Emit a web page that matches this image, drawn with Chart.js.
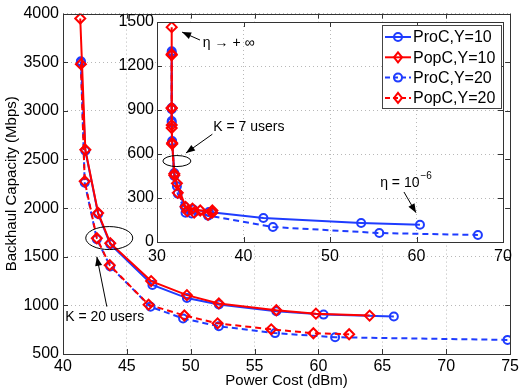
<!DOCTYPE html>
<html><head><meta charset="utf-8">
<script src="https://cdn.jsdelivr.net/npm/chart.js@4"></script>
<style>
html,body{margin:0;padding:0;background:#fff;}
#wrap{position:relative;width:522px;height:392px;}
canvas{position:absolute;left:0;top:0;}
</style></head><body>
<div id="wrap">
<canvas id="main" width="522" height="392"></canvas>
<canvas id="inset" width="522" height="392"></canvas>
</div>
<script>
// ---------- DATA ----------
const seriesLabels = ['ProC,Y=10', 'PopC,Y=10', 'ProC,Y=20', 'PopC,Y=20'];

// Main plot (K = 20 users)
const mainProC10X = [41.4, 41.75, 42.75, 43.7, 47.0, 49.7, 52.2, 56.7, 60.4, 65.9];
const mainProC10Y = [3510, 2590, 1940, 1630, 1210, 1075, 1010, 940, 905, 885];
const mainPopC10X = [41.35, 41.75, 42.75, 43.7, 46.9, 49.7, 52.2, 56.7, 59.8, 64.0];
const mainPopC10Y = [3950, 2600, 1950, 1640, 1250, 1105, 1020, 950, 915, 895];
const mainProC20X = [41.4, 41.7, 42.65, 43.7, 46.85, 49.4, 52.2, 56.6, 61.3, 74.8];
const mainProC20Y = [3500, 2260, 1680, 1400, 985, 865, 785, 715, 672, 645];
const mainPopC20X = [41.4, 41.7, 42.65, 43.66, 46.7, 49.5, 52.1, 56.3, 59.6, 62.4];
const mainPopC20Y = [3480, 2276, 1690, 1413, 1007, 896, 815, 754, 713, 703];

// Inset plot (K = 7 users)
const insetProC10X = [31.7, 31.7, 31.7, 31.75, 32.0, 32.3, 33.2, 34.2, 36.0, 42.3, 53.6, 60.4];
const insetProC10Y = [1300, 915, 825, 688, 470, 380, 240, 222, 205, 164, 130, 118];
const insetPopC10X = [31.7, 31.7, 31.7, 31.7, 31.75, 32.0, 32.3, 33.3, 34.1, 35.0, 36.4];
const insetPopC10Y = [1465, 1280, 915, 797, 675, 465, 400, 240, 228, 215, 215];
const insetProC20X = [31.7, 31.7, 31.7, 31.75, 32.0, 32.4, 33.3, 34.0, 35.9, 43.4, 55.7, 67.1];
const insetProC20Y = [1290, 905, 815, 680, 450, 330, 200, 195, 180, 102, 61, 48];
const insetPopC20X = [31.7, 31.7, 31.7, 31.75, 32.0, 32.4, 33.5, 34.3, 35.9, 36.4];
const insetPopC20Y = [1275, 910, 777, 668, 455, 335, 210, 200, 185, 200];

// Tick values
const mainXTicks = [40, 45, 50, 55, 60, 65, 70, 75];
const mainYTicks = [500, 1000, 1500, 2000, 2500, 3000, 3500, 4000];
const insetXTicks = [30, 40, 50, 60, 70];
const insetYTicks = [0, 300, 600, 900, 1200, 1500];

// ---------- STYLE ----------
const F = '"Liberation Sans", Arial, Helvetica, sans-serif';
const BLUE = '#1f3cff';
const RED = '#ff0000';
const styles = [
  {color: BLUE, dash: [], point: 'circle'},
  {color: RED, dash: [], point: 'diamond'},
  {color: BLUE, dash: [6, 4], point: 'circle'},
  {color: RED, dash: [6, 4], point: 'diamond'}
];

function pts(xs, ys) { return xs.map((x, i) => ({x: x, y: ys[i]})); }

function ds(i, xs, ys) {
  const s = styles[i];
  return {
    label: seriesLabels[i],
    data: pts(xs, ys),
    borderColor: s.color,
    backgroundColor: s.color,
    borderWidth: 2,
    borderDash: s.dash,
    showLine: true,
    fill: false,
    tension: 0,
    pointStyle: s.point === 'circle' ? 'circle' : 'rectRot',
    pointRadius: s.point === 'circle' ? 4 : 5,
    pointBorderWidth: 2,
    pointBorderColor: s.color,
    pointBackgroundColor: 'rgba(0,0,0,0)'
  };
}

function drawMarker(ctx, type, x, y, color) {
  ctx.save();
  ctx.strokeStyle = color; ctx.lineWidth = 2; ctx.setLineDash([]);
  ctx.beginPath();
  if (type === 'circle') { ctx.arc(x, y, 4, 0, Math.PI * 2); }
  else { ctx.moveTo(x, y - 5); ctx.lineTo(x + 4, y); ctx.lineTo(x, y + 5); ctx.lineTo(x - 4, y); ctx.closePath(); }
  ctx.stroke();
  ctx.restore();
}

function arrow(ctx, x1, y1, x2, y2) {
  ctx.save();
  ctx.strokeStyle = '#000'; ctx.fillStyle = '#000'; ctx.lineWidth = 1; ctx.setLineDash([]);
  ctx.beginPath(); ctx.moveTo(x1, y1); ctx.lineTo(x2, y2); ctx.stroke();
  const a = Math.atan2(y2 - y1, x2 - x1), L = 9, W = 3.5;
  ctx.beginPath();
  ctx.moveTo(x2, y2);
  ctx.lineTo(x2 - L * Math.cos(a) + W * Math.sin(a), y2 - L * Math.sin(a) - W * Math.cos(a));
  ctx.lineTo(x2 - L * Math.cos(a) - W * Math.sin(a), y2 - L * Math.sin(a) + W * Math.cos(a));
  ctx.closePath(); ctx.fill();
  ctx.restore();
}

function ellipse(ctx, cx, cy, rx, ry) {
  ctx.save();
  ctx.strokeStyle = '#000'; ctx.lineWidth = 1; ctx.setLineDash([]);
  ctx.beginPath(); ctx.ellipse(cx, cy, rx, ry, 0, 0, Math.PI * 2); ctx.stroke();
  ctx.restore();
}

// Frame + inward tick marks (MATLAB style)
const framePlugin = {
  id: 'frame',
  beforeDraw(chart, args, opts) {
    if (opts && opts.white) {
      const a = chart.chartArea, ctx = chart.ctx;
      ctx.save(); ctx.fillStyle = '#fff';
      ctx.fillRect(a.left, a.top, a.right - a.left, a.bottom - a.top);
      ctx.restore();
    }
  },
  afterDraw(chart) {
    const a = chart.chartArea, ctx = chart.ctx;
    const xs = chart.scales.x, ys = chart.scales.y;
    ctx.save();
    ctx.strokeStyle = '#333'; ctx.lineWidth = 1; ctx.setLineDash([]);
    const T = 5;
    ctx.beginPath();
    xs.ticks.forEach(t => {
      const p = Math.round(xs.getPixelForValue(t.value)) + 0.5;
      ctx.moveTo(p, a.bottom); ctx.lineTo(p, a.bottom - T);
      ctx.moveTo(p, a.top); ctx.lineTo(p, a.top + T);
    });
    ys.ticks.forEach(t => {
      const p = Math.round(ys.getPixelForValue(t.value)) + 0.5;
      ctx.moveTo(a.left, p); ctx.lineTo(a.left + T, p);
      ctx.moveTo(a.right, p); ctx.lineTo(a.right - T, p);
    });
    ctx.stroke();
    ctx.strokeRect(Math.round(a.left) + 0.5, Math.round(a.top) + 0.5,
                   Math.round(a.right - a.left), Math.round(a.bottom - a.top));
    ctx.restore();
  }
};

function scaleOpts(min, max, ticks, fixed, isX, titleText, labelPad) {
  const o = {
    type: 'linear', min: min, max: max,
    afterBuildTicks(s) { s.ticks = ticks.map(v => ({value: v})); },
    ticks: {
      font: {family: F, size: 16}, color: '#000', padding: labelPad,
      autoSkip: false, maxRotation: 0, callback: v => String(v)
    },
    grid: {color: '#b8b8b8', lineWidth: 1, drawTicks: false},
    border: {display: false, dash: [1, 3]},
    afterFit(s) { if (isX) s.height = fixed; else s.width = fixed; }
  };
  if (titleText) {
    o.title = {display: true, text: titleText, color: '#000',
      font: {family: F, size: 15},
      padding: isX ? {top: 0, bottom: 2} : {top: 3, bottom: 0}};
  }
  return o;
}

// ---------- MAIN CHART ----------
const mainAnnot = {
  id: 'mainAnnot',
  afterDraw(chart) {
    const ctx = chart.ctx, X = chart.scales.x, Y = chart.scales.y;
    const px = v => X.getPixelForValue(v), py = v => Y.getPixelForValue(v);
    ellipse(ctx, px(43.62), py(1692), 23.5, 11.5);
    arrow(ctx, px(43.43), py(987), px(42.65), py(1500));
    ctx.save();
    ctx.font = '14px ' + F; ctx.fillStyle = '#000';
    ctx.textAlign = 'center'; ctx.textBaseline = 'middle';
    ctx.fillText('K = 20 users', px(43.27), py(875));
    ctx.restore();
  }
};

new Chart(document.getElementById('main'), {
  type: 'scatter',
  data: {datasets: [
    ds(1, mainPopC10X, mainPopC10Y),
    ds(3, mainPopC20X, mainPopC20Y),
    ds(0, mainProC10X, mainProC10Y),
    ds(2, mainProC20X, mainProC20Y)
  ]},
  options: {
    responsive: false, animation: false, devicePixelRatio: 1,
    layout: {padding: {left: 0, right: 10, top: 9, bottom: 0}},
    plugins: {legend: {display: false}, tooltip: {enabled: false}, frame: {white: false}},
    scales: {
      x: scaleOpts(40, 75, mainXTicks, 38, true, 'Power Cost (dBm)', 3),
      y: scaleOpts(500, 4000, mainYTicks, 63, false, 'Backhaul Capacity (Mbps)', 4)
    }
  },
  plugins: [framePlugin, mainAnnot]
});

// ---------- INSET CHART ----------
const insetAnnot = {
  id: 'insetAnnot',
  afterDraw(chart) {
    const ctx = chart.ctx, X = chart.scales.x, Y = chart.scales.y;
    const px = v => X.getPixelForValue(v), py = v => Y.getPixelForValue(v);
    ctx.save();
    ctx.font = '14px ' + F; ctx.fillStyle = '#000'; ctx.textBaseline = 'middle'; ctx.textAlign = 'left';
    // eta -> +inf
    ctx.fillText('\u03B7 \u2192 + \u221E', px(35.3), py(1357));
    arrow(ctx, px(34.97), py(1377), px(32.9), py(1431));
    // K = 7 users
    ctx.fillText('K = 7 users', px(36.5), py(784));
    arrow(ctx, px(36.4), py(735), px(33.35), py(607));
    ellipse(ctx, px(32.3), py(552), 14, 5.5);
    // eta = 10^-6
    const tx = px(55.8), ty = py(402);
    ctx.fillText('\u03B7 = 10', tx, ty);
    const w = ctx.measureText('\u03B7 = 10').width;
    ctx.font = '10px ' + F;
    ctx.fillText('\u22126', tx + w + 1, ty - 7);
    arrow(ctx, px(58.55), py(341), px(59.94), py(200));
    ctx.restore();

    // legend
    const lx = 382, ly = 25, lw = 119, lh = 83;
    ctx.save();
    ctx.fillStyle = '#fff'; ctx.fillRect(lx, ly, lw, lh);
    ctx.strokeStyle = '#444'; ctx.lineWidth = 1;
    ctx.strokeRect(lx + 0.5, ly + 0.5, lw, lh);
    ctx.font = '16px ' + F; ctx.textBaseline = 'middle'; ctx.textAlign = 'left'; ctx.fillStyle = '#000';
    seriesLabels.forEach((lab, i) => {
      const s = styles[i];
      const y = ly + 12 + i * 20.3;
      ctx.save();
      ctx.strokeStyle = s.color; ctx.lineWidth = 2;
      ctx.setLineDash(s.dash.length ? [5, 3] : []);
      ctx.beginPath(); ctx.moveTo(lx + 3, y); ctx.lineTo(lx + 29, y); ctx.stroke();
      ctx.restore();
      drawMarker(ctx, s.point, lx + 16, y, s.color);
      ctx.fillText(lab, lx + 31, y + 1);
    });
    ctx.restore();
  }
};

new Chart(document.getElementById('inset'), {
  type: 'scatter',
  data: {datasets: [
    ds(1, insetPopC10X, insetPopC10Y),
    ds(3, insetPopC20X, insetPopC20Y),
    ds(0, insetProC10X, insetProC10Y),
    ds(2, insetProC20X, insetProC20Y)
  ]},
  options: {
    responsive: false, animation: false, devicePixelRatio: 1,
    layout: {padding: {left: 117, right: 19, top: 22, bottom: 126}},
    plugins: {legend: {display: false}, tooltip: {enabled: false}, frame: {white: true}},
    scales: {
      x: scaleOpts(30, 70, insetXTicks, 24, true, null, 5),
      y: scaleOpts(0, 1500, insetYTicks, 40, false, null, 3)
    }
  },
  plugins: [framePlugin, insetAnnot]
});
</script>
</body></html>
